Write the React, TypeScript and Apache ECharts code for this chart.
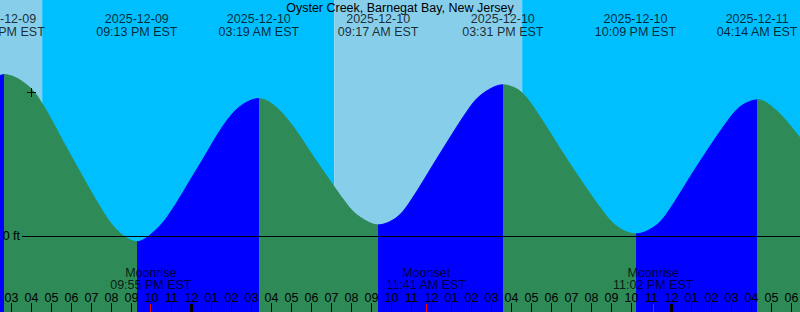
import React, { useEffect, useRef } from 'react';
import * as echarts from 'echarts';

// ---------- data ----------
const chartTitle = 'Oyster Creek, Barnegat Bay, New Jersey';

// hours are counted from 2025-12-09 03:00 PM EST
const ORIGIN_DATE = '2025-12-09';
const ORIGIN_HOUR = 15;

const tideDates = ['2025-12-09', '2025-12-09', '2025-12-10', '2025-12-10', '2025-12-10', '2025-12-10', '2025-12-11'];
const tideTimes = ['02:35 PM EST', '09:13 PM EST', '03:19 AM EST', '09:17 AM EST', '03:31 PM EST', '10:09 PM EST', '04:14 AM EST'];
const tideKinds = ['high', 'low', 'high', 'low', 'high', 'low', 'high'];

const moonEvents = ['Moonrise', 'Moonset', 'Moonrise'];
const moonDates = ['2025-12-09', '2025-12-10', '2025-12-10'];
const moonTimes = ['09:55 PM EST', '11:41 AM EST', '11:02 PM EST'];

const sunDates = ['2025-12-09', '2025-12-10', '2025-12-10'];
const sunTimes = ['04:29 PM EST', '07:05 AM EST', '04:29 PM EST'];
const sunKinds = ['set', 'rise', 'set'];

const midnightDates = ['2025-12-10', '2025-12-11'];

const hourTickLabels = [
  '03', '04', '05', '06', '07', '08', '09', '10', '11', '12', '01', '02',
  '03', '04', '05', '06', '07', '08', '09', '10', '11', '12', '01', '02',
  '03', '04', '05', '06', '07', '08', '09', '10', '11', '12', '01', '02',
  '03', '04', '05', '06',
];

// water level (ft), at hours since origin
const levelHours = [
  -0.625, -0.425, 0.375, 1.2375, 2.9, 4.5625, 5.375, 6.225, 6.875, 7.745, 9.285, 11.025,
  12.31, 13.525, 15.295, 16.785, 17.375, 18.275, 19.175, 19.835, 21.395, 22.95, 23.625,
  24.51, 25.375, 26.175, 27.845, 29.51, 30.275, 31.175, 32.075, 32.7, 34.225, 35.75, 36.425,
  37.275, 38.275, 39.375,
];
const levelFeet = [
  0.535, 0.538, 0.52, 0.467, 0.27, 0.077, 0.01, -0.019, 0.003, 0.064, 0.23, 0.41,
  0.458, 0.407, 0.24, 0.1, 0.063, 0.037, 0.06, 0.11, 0.277, 0.437, 0.48,
  0.504, 0.483, 0.417, 0.243, 0.083, 0.029, 0.007, 0.03, 0.073, 0.233, 0.383, 0.433,
  0.454, 0.413, 0.327,
];

const nowMark = [0.9, 0.479];

// ---------- layout / style constants ----------
const X_MIN = -0.625;
const X_MAX = 39.375;
const Y_MIN = -76 / 300;
const Y_MAX = 236 / 300;
const PX_PER_FT = 300;
const TOP_LABEL_LEVEL = Y_MAX - 25.4 / PX_PER_FT;
const MOON_LABEL_LEVEL = Y_MAX - 279.2 / PX_PER_FT;
const ZERO_LINE_START = 0.475;

const DAY = '#87CEEB';
const NIGHT = '#00BFFF';
const EBB = '#2E8B57';
const FLOOD = '#0000FF';
const FONT = 'Liberation Sans';
const FS = 12.5;
const LH = 12.3;

function toHours(date: string, time: string): number {
  const [y, m, d] = date.split('-').map(Number);
  const [oy, om, od] = ORIGIN_DATE.split('-').map(Number);
  const days = (Date.UTC(y, m - 1, d) - Date.UTC(oy, om - 1, od)) / 86400000;
  const mt = time.match(/(\d+):(\d+)\s*(AM|PM)/)!;
  const hh = (Number(mt[1]) % 12) + (mt[3] === 'PM' ? 12 : 0);
  return days * 24 + hh + Number(mt[2]) / 60 - ORIGIN_HOUR;
}

export default function App() {
  const ref = useRef<HTMLDivElement>(null);

  useEffect(() => {
    document.body.style.margin = '0';
    document.body.style.overflow = 'hidden';
    if (!ref.current) return;
    const chart = echarts.init(ref.current, undefined, { renderer: 'svg' });

    const tideHours = tideDates.map((d, i) => toHours(d, tideTimes[i]));
    const moonHours = moonDates.map((d, i) => toHours(d, moonTimes[i]));
    const sunHours = sunDates.map((d, i) => toHours(d, sunTimes[i]));
    const midnightHours = midnightDates.map((d) => toHours(d, '12:00 AM'));

    // sky bands
    const skyBands: number[][] = [];
    let start = X_MIN;
    let isDay = sunKinds[0] === 'set' ? 1 : 0;
    sunHours.forEach((h, i) => {
      skyBands.push([start, h, isDay]);
      start = h;
      isDay = sunKinds[i] === 'rise' ? 1 : 0;
    });
    skyBands.push([start, X_MAX, isDay]);

    // rising / falling pieces
    const pieces: any[] = [];
    pieces.push({ lt: tideHours[0], color: tideKinds[0] === 'high' ? FLOOD : EBB });
    for (let i = 0; i < tideHours.length - 1; i++) {
      pieces.push({ gte: tideHours[i], lt: tideHours[i + 1], color: tideKinds[i] === 'high' ? EBB : FLOOD });
    }
    const last = tideHours.length - 1;
    pieces.push({ gte: tideHours[last], color: tideKinds[last] === 'high' ? EBB : FLOOD });

    const specialTicks = [
      ...midnightHours.map((h) => [h, 0]),
      ...moonHours.map((h) => [h, 1]),
    ];

    const hourTicks = hourTickLabels.map((_, i) => [i]);
    const font = `${FS}px "${FONT}"`;

    const option: any = {
      animation: false,
      title: {
        text: chartTitle,
        left: 'center',
        top: 1,
        padding: 0,
        textStyle: { fontFamily: FONT, fontSize: FS, fontWeight: 'normal', color: '#000' },
      },
      grid: { left: 0, right: 0, top: 0, bottom: 0, containLabel: false },
      xAxis: {
        type: 'value',
        min: X_MIN,
        max: X_MAX,
        axisLine: { show: false, onZero: false },
        splitLine: { show: false },
        axisTick: { show: false },
        axisLabel: { show: false },
      },
      yAxis: {
        type: 'value',
        min: Y_MIN,
        max: Y_MAX,
        show: false,
        splitLine: { show: false },
      },
      visualMap: {
        type: 'piecewise',
        show: false,
        dimension: 0,
        seriesIndex: 1,
        pieces,
      },
      series: [
        {
          type: 'custom',
          z: 0,
          silent: true,
          data: skyBands,
          renderItem: (params: any, api: any) => {
            const p0 = api.coord([api.value(0), Y_MAX]);
            const p1 = api.coord([api.value(1), Y_MIN]);
            return {
              type: 'rect',
              shape: { x: p0[0], y: p0[1], width: p1[0] - p0[0], height: p1[1] - p0[1] },
              style: { fill: api.value(2) ? DAY : NIGHT },
            };
          },
        },
        {
          type: 'line',
          z: 1,
          silent: true,
          smooth: 0.33,
          showSymbol: false,
          data: levelHours.map((h, i) => [h, levelFeet[i]]),
          lineStyle: { width: 1 },
          areaStyle: { opacity: 1, origin: 'start' },
          markLine: {
            silent: true,
            symbol: ['none', 'none'],
            lineStyle: { color: '#000', width: 1, type: 'solid' },
            label: {
              show: true,
              position: 'start',
              distance: 2,
              formatter: '0 ft',
              color: '#000',
              fontFamily: FONT,
              fontSize: FS,
            },
            data: [[{ coord: [ZERO_LINE_START, 0] }, { coord: [X_MAX, 0] }]],
          },
        },
        {
          type: 'custom',
          z: 3,
          silent: true,
          data: hourTicks,
          renderItem: (params: any, api: any) => {
            const p = api.coord([api.value(0), Y_MIN]);
            const tx = Math.floor(p[0]) - 1;
            return {
              type: 'group',
              children: [
                {
                  type: 'rect',
                  shape: { x: tx, y: p[1] - 9, width: 1, height: 9 },
                  style: { fill: '#000' },
                },
                {
                  type: 'text',
                  x: tx + 0.5,
                  y: p[1] - 14.5,
                  style: {
                    text: hourTickLabels[params.dataIndex],
                    align: 'center',
                    verticalAlign: 'middle',
                    textAlign: 'center',
                    textVerticalAlign: 'middle',
                    fill: '#000',
                    font,
                  },
                },
              ],
            };
          },
        },
        {
          type: 'custom',
          z: 4,
          silent: true,
          data: specialTicks,
          renderItem: (params: any, api: any) => {
            const p = api.coord([api.value(0), Y_MIN]);
            const kind = api.value(1);
            const w = kind === 0 ? 3 : 1;
            const x = kind === 0 ? Math.floor(p[0]) - 2 : Math.floor(p[0]);
            return {
              type: 'rect',
              shape: { x, y: p[1] - 8, width: w, height: 8 },
              style: { fill: kind === 0 ? '#000' : '#FF0000' },
            };
          },
        },
        {
          type: 'scatter',
          z: 4,
          silent: true,
          symbolSize: 1,
          itemStyle: { color: 'transparent' },
          data: tideHours.map((h) => [h, TOP_LABEL_LEVEL]),
          label: {
            show: true,
            position: 'inside',
            formatter: (p: any) => `${tideDates[p.dataIndex]}\n${tideTimes[p.dataIndex]}`,
            color: '#000',
            fontFamily: FONT,
            fontSize: FS,
            lineHeight: LH,
          },
        },
        {
          type: 'scatter',
          z: 4,
          silent: true,
          symbolSize: 1,
          itemStyle: { color: 'transparent' },
          data: moonHours.map((h) => [h, MOON_LABEL_LEVEL]),
          label: {
            show: true,
            position: 'inside',
            formatter: (p: any) => `${moonEvents[p.dataIndex]}\n${moonTimes[p.dataIndex]}`,
            color: '#000',
            fontFamily: FONT,
            fontSize: FS,
            lineHeight: 11.8,
          },
        },
        {
          type: 'custom',
          z: 5,
          silent: true,
          data: [nowMark],
          renderItem: (params: any, api: any) => {
            const p = api.coord([api.value(0), api.value(1)]);
            const cx = Math.round(p[0]) + 0.5;
            const cy = Math.round(p[1]) + 0.5;
            return {
              type: 'group',
              children: [
                { type: 'line', shape: { x1: cx - 4.5, y1: cy, x2: cx + 4.5, y2: cy }, style: { stroke: '#000', lineWidth: 1 } },
                { type: 'line', shape: { x1: cx, y1: cy - 4.5, x2: cx, y2: cy + 4.5 }, style: { stroke: '#000', lineWidth: 1 } },
              ],
            };
          },
        },
      ],
    };

    chart.setOption(option);
    return () => chart.dispose();
  }, []);

  return <div ref={ref} style={{ width: 800, height: 312 }} />;
}
